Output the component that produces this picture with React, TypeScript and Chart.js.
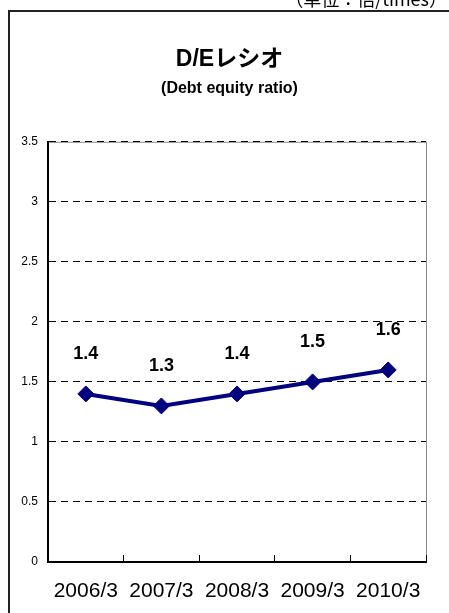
import React, { useEffect, useRef } from 'react';
import { Chart, registerables } from 'chart.js';

Chart.register(...registerables);

const categories = ['2006/3', '2007/3', '2008/3', '2009/3', '2010/3'];
const deRatio = [1.4, 1.3, 1.4, 1.5, 1.6];
const yTicks = [0, 0.5, 1, 1.5, 2, 2.5, 3, 3.5];
const titleText = 'D/Eレシオ';
const subtitleText = '(Debt equity ratio)';
const unitText = '（単位：倍/times）';

const FONT = '"Liberation Sans", "Noto Sans CJK JP", sans-serif';
const NAVY = '#000080';

const plotFrame = {
  id: 'plotFrame',
  beforeDraw(chart: any) {
    const { ctx, chartArea } = chart;
    ctx.save();
    ctx.strokeStyle = '#8a8a8a';
    ctx.lineWidth = 1;
    ctx.strokeRect(chartArea.left + 0.5, chartArea.top + 0.5, chartArea.right - chartArea.left, chartArea.bottom - chartArea.top);
    ctx.restore();
  },
};

const valueLabels = {
  id: 'valueLabels',
  afterDatasetsDraw(chart: any) {
    const { ctx } = chart;
    const meta = chart.getDatasetMeta(0);
    const data = chart.data.datasets[0].data as number[];
    ctx.save();
    ctx.font = 'bold 18px ' + FONT;
    ctx.fillStyle = '#000';
    ctx.textAlign = 'center';
    ctx.textBaseline = 'middle';
    meta.data.forEach((pt: any, i: number) => {
      ctx.fillText(data[i].toFixed(1), pt.x, pt.y - 40);
    });
    ctx.restore();
  },
};

export default function App() {
  const ref = useRef<HTMLCanvasElement | null>(null);

  useEffect(() => {
    if (!ref.current) return;
    const chart = new Chart(ref.current, {
      type: 'line',
      data: {
        labels: categories,
        datasets: [
          {
            data: deRatio,
            borderColor: NAVY,
            backgroundColor: NAVY,
            borderWidth: 4,
            pointStyle: 'rectRot',
            pointRadius: 8,
            pointBorderWidth: 1,
            pointBackgroundColor: NAVY,
            pointBorderColor: NAVY,
            tension: 0,
          },
        ],
      },
      options: {
        animation: false,
        responsive: true,
        maintainAspectRatio: false,
        layout: { padding: { left: 0, right: 0, top: 0, bottom: 10 } },
        plugins: {
          legend: { display: false },
          tooltip: { enabled: false },
          title: {
            display: true,
            text: titleText,
            color: '#000',
            font: { size: 23, weight: 'bold', family: FONT },
            padding: { top: 34, bottom: 0 },
          },
          subtitle: {
            display: true,
            text: subtitleText,
            color: '#000',
            font: { size: 16, weight: 'bold', family: FONT },
            padding: { top: 5, bottom: 44 },
          },
        },
        scales: {
          x: {
            offset: true,
            grid: {
              display: true,
              offset: true,
              drawOnChartArea: false,
              drawTicks: true,
              tickLength: -7,
              color: '#000',
              lineWidth: 1,
            },
            border: { display: true, color: '#000', width: 2 },
            ticks: {
              padding: 24,
              color: '#000',
              maxRotation: 0,
              autoSkip: false,
              font: { size: 21, family: FONT },
            },
            afterFit: (s: any) => {
              s.height = 41;
            },
          },
          y: {
            min: 0,
            max: 3.5,
            afterBuildTicks: (s: any) => {
              s.ticks = yTicks.map((v) => ({ value: v }));
            },
            grid: { color: '#000', lineWidth: 1, drawTicks: false },
            border: { display: true, color: '#000', width: 2, dash: [7, 5] },
            ticks: {
              padding: 10,
              color: '#000',
              font: { size: 12, family: FONT },
              callback: (v: any) => String(v),
            },
            afterFit: (s: any) => {
              s.width = 38;
            },
          },
          yRight: {
            position: 'right',
            display: true,
            grid: { display: false, drawTicks: false },
            border: { display: false },
            ticks: { display: false },
            afterFit: (s: any) => {
              s.width = 23;
            },
          },
        },
      },
      plugins: [plotFrame, valueLabels],
    });
    return () => chart.destroy();
  }, []);

  return (
    <>
      <div
        style={{
          position: 'fixed',
          left: 8,
          top: 10,
          width: 441,
          height: 603,
          borderTop: '2px solid #222',
          borderLeft: '2px solid #222',
          boxSizing: 'border-box',
        }}
      />
      <div
        style={{
          position: 'fixed',
          right: 2,
          top: -11,
          fontSize: 18,
          lineHeight: '18px',
          fontFamily: '"Noto Sans CJK JP", sans-serif',
          whiteSpace: 'nowrap',
          color: '#000',
        }}
      >
        {unitText}
      </div>
      <div style={{ position: 'fixed', left: 10, top: 12, width: 439, height: 601 }}>
        <canvas ref={ref} style={{ width: '100%', height: '100%' }} />
      </div>
    </>
  );
}
